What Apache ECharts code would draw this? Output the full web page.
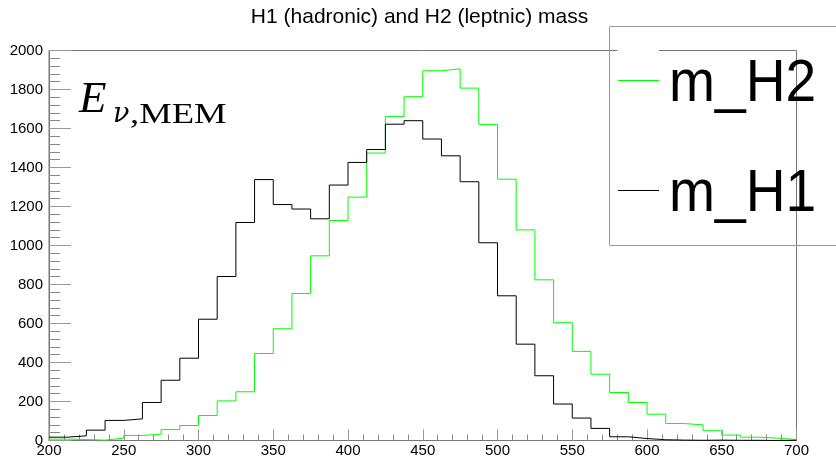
<!DOCTYPE html>
<html>
<head>
<meta charset="utf-8">
<script src="https://cdn.jsdelivr.net/npm/echarts@6/dist/echarts.min.js"></script>
<style>
html,body{margin:0;padding:0;background:#fff;}
#chart{width:836px;height:461px;}
</style>
</head>
<body>
<div id="chart"></div>
<script>
// Bin edges (GeV), 40 bins of 12.5 from 200 to 700
const binEdges = [200,212.5,225,237.5,250,262.5,275,287.5,300,312.5,325,337.5,350,362.5,375,387.5,400,412.5,425,437.5,450,462.5,475,487.5,500,512.5,525,537.5,550,562.5,575,587.5,600,612.5,625,637.5,650,662.5,675,687.5,700];
// m_H1 (hadronic) bin contents
const mH1 = [17,24,53,103,111,195,309,422,622,841,1118,1338,1210,1187,1137,1310,1426,1492,1622,1640,1546,1460,1327,1014,742,494,332,187,115,62,19,10,4,2,1,2,1,1,0,1];
// m_H2 (leptonic) bin contents
const mH2 = [7,5,2,12,26,32,56,77,128,203,250,446,573,754,947,1128,1248,1474,1662,1763,1896,1906,1807,1621,1340,1080,824,604,457,340,246,195,135,87,80,50,28,17,12,5];
const xTicks = [200,250,300,350,400,450,500,550,600,650,700];
const yTicks = [0,200,400,600,800,1000,1200,1400,1600,1800,2000];
const titleText = 'H1 (hadronic) and H2 (leptnic) mass';
const legendNames = ['m_H2','m_H1'];

function stepPoints(vals){
  const pts = [];
  for (let i = 0; i < vals.length; i++) pts.push([binEdges[i], vals[i]]);
  pts.push([binEdges[binEdges.length-1], vals[vals.length-1]]);
  return pts;
}

const chart = echarts.init(document.getElementById('chart'), null, {renderer:'canvas'});
const axisGrey = '#777';
const option = {
  animation: false,
  backgroundColor: '#ffffff',
  grid: {left:49, right:39.5, top:50.5, bottom:20.5, show:true, borderColor:axisGrey, borderWidth:1, backgroundColor:'transparent'},
  xAxis: {
    type:'value', min:xTicks[0], max:xTicks[xTicks.length-1], interval:50,
    axisLine:{show:true, lineStyle:{color:axisGrey, width:1}},
    axisTick:{show:true, inside:true, length:11, lineStyle:{color:'#999'}},
    minorTick:{show:true, splitNumber:5, length:6, lineStyle:{color:'#888'}},
    splitLine:{show:false},
    axisLabel:{color:'#000', fontSize:15, fontFamily:'Liberation Sans', margin:3, showMinLabel:true, showMaxLabel:true,
      formatter:function(v){return String(v);}}
  },
  yAxis: {
    type:'value', min:yTicks[0], max:yTicks[yTicks.length-1], interval:200,
    axisLine:{show:true, lineStyle:{color:axisGrey, width:1}},
    axisTick:{show:true, inside:true, length:22, lineStyle:{color:'#999'}},
    minorTick:{show:true, splitNumber:5, length:11, lineStyle:{color:'#888'}},
    splitLine:{show:false},
    axisLabel:{color:'#000', fontSize:15, fontFamily:'Liberation Sans', margin:6,
      formatter:function(v){return String(v);}}
  },
  series: [
    {name:legendNames[0], type:'line', step:'end', data:stepPoints(mH2), showSymbol:false, symbol:'none',
     lineStyle:{color:'#00ff00', width:1}, z:3},
    {name:legendNames[1], type:'line', step:'end', data:stepPoints(mH1), showSymbol:false, symbol:'none',
     lineStyle:{color:'#000000', width:1}, z:4}
  ],
  graphic: [
    {type:'text', x:419.5, y:17, z:10, style:{text:titleText, fill:'#000', font:'21px "Liberation Sans"', align:'center', verticalAlign:'middle'}},
    // white gap in top frame under legend sample
    {type:'rect', shape:{x:617.5, y:48, width:41.5, height:5}, style:{fill:'#fff'}, z:20},
    // legend box
    {type:'rect', shape:{x:609.5, y:26.5, width:240, height:219}, style:{fill:'none', stroke:'#999', lineWidth:1}, z:21},
    {type:'line', shape:{x1:618, y1:80.5, x2:659, y2:80.5}, style:{stroke:'#00ff00', lineWidth:1}, z:22},
    {type:'line', shape:{x1:618, y1:190.5, x2:659, y2:190.5}, style:{stroke:'#000', lineWidth:1}, z:22},
    {type:'text', x:669, y:84, scaleX:0.92, z:23, style:{text:legendNames[0], fill:'#000', font:'60px "Liberation Sans"', align:'left', verticalAlign:'middle'}},
    {type:'text', x:669, y:194, scaleX:0.92, z:23, style:{text:legendNames[1], fill:'#000', font:'60px "Liberation Sans"', align:'left', verticalAlign:'middle'}},
    // E_{nu,MEM}
    {type:'text', x:79, y:100, z:23, style:{text:'E', fill:'#000', font:'italic 45px "Liberation Serif"', align:'left', verticalAlign:'middle'}},
    {type:'text', x:113, y:115, z:23, style:{text:'ν', fill:'#000', font:'italic 27px "DejaVu Serif"', align:'left', verticalAlign:'middle'}},
    {type:'text', x:130, y:115, scaleX:1.22, z:23, style:{text:',MEM', fill:'#000', font:'30px "Liberation Serif"', align:'left', verticalAlign:'middle'}}
  ]
};
chart.setOption(option);
</script>
</body>
</html>
